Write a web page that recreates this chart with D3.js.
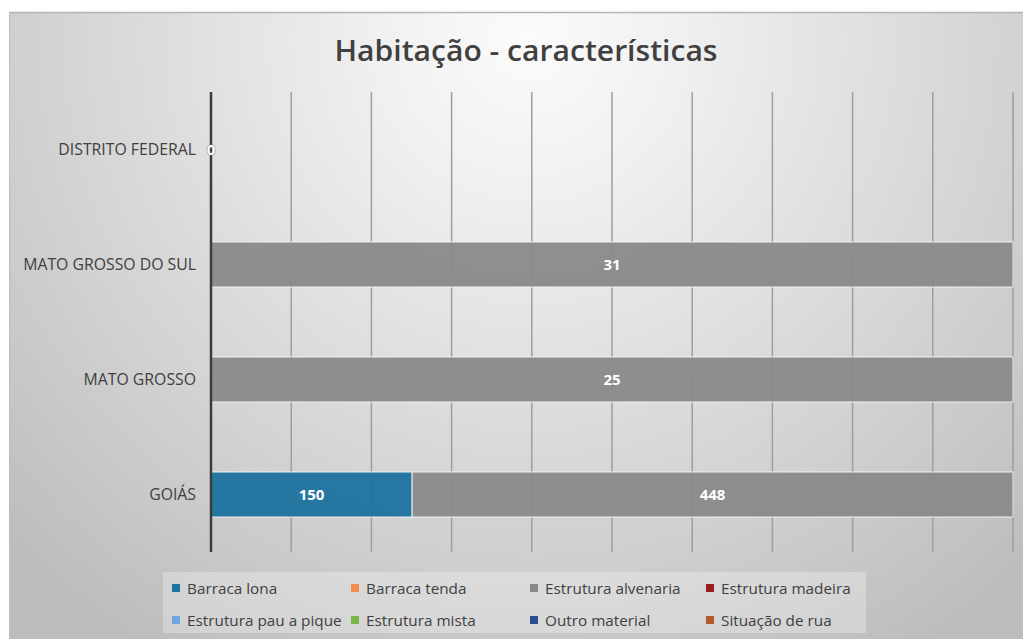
<!DOCTYPE html>
<html><head><meta charset="utf-8">
<script src="https://cdn.jsdelivr.net/npm/d3@7"></script>
<style>html,body{margin:0;padding:0;background:#fff;} svg{display:block;}</style>
</head><body>
<script>
// ---- data ----
const categories = ["DISTRITO FEDERAL", "MATO GROSSO DO SUL", "MATO GROSSO", "GOIÁS"];
const seriesNames = ["Barraca lona", "Barraca tenda", "Estrutura alvenaria", "Estrutura madeira",
  "Estrutura pau a pique", "Estrutura mista", "Outro material", "Situação de rua"];
const barracaLona        = [0, 0, 0, 150];
const barracaTenda       = [0, 0, 0, 0];
const estruturaAlvenaria = [0, 31, 25, 448];
const estruturaMadeira   = [0, 0, 0, 0];
const estruturaPauAPique = [0, 0, 0, 0];
const estruturaMista     = [0, 0, 0, 0];
const outroMaterial      = [0, 0, 0, 0];
const situacaoDeRua      = [0, 0, 0, 0];
const seriesColors = ["#1e739f", "#f28c4e", "#8a8a8a", "#9a1d20", "#6ea7dc", "#7ab54a", "#2e4f8f", "#b35a2b"];
const xTicks = [0, 0.1, 0.2, 0.3, 0.4, 0.5, 0.6, 0.7, 0.8, 0.9, 1.0];
const titleText = "Habitação - características";

const seriesValues = [barracaLona, barracaTenda, estruturaAlvenaria, estruturaMadeira,
  estruturaPauAPique, estruturaMista, outroMaterial, situacaoDeRua];

const W = 1023, H = 639;
const svg = d3.select("body").append("svg").attr("width", W).attr("height", H);
const defs = svg.append("defs");
const rg = defs.append("radialGradient").attr("id", "bg")
  .attr("gradientUnits", "userSpaceOnUse").attr("cx", 530).attr("cy", 40).attr("r", 720);
[[0, "#fbfbfb"], [0.18, "#f2f2f2"], [0.4, "#e4e4e4"], [0.62, "#d6d6d6"], [0.82, "#c9c9c9"], [1, "#bdbdbd"]]
  .forEach(([o, c]) => rg.append("stop").attr("offset", o).attr("stop-color", c));

// chart area background
svg.append("rect").attr("x", 9).attr("y", 12).attr("width", W - 9).attr("height", H - 12).attr("fill", "url(#bg)");
svg.append("line").attr("x1", 9).attr("x2", W).attr("y1", 12.5).attr("y2", 12.5).attr("stroke", "#b4b4b4").attr("stroke-width", 1.5);
svg.append("line").attr("x1", 9.5).attr("x2", 9.5).attr("y1", 12).attr("y2", H).attr("stroke", "#bcbcbc").attr("stroke-width", 1);

const font = "'Open Sans', 'DejaVu Sans', sans-serif";

// title
svg.append("text").attr("x", 526).attr("y", 61).attr("text-anchor", "middle")
  .attr("font-family", font).attr("font-weight", 600).attr("font-size", 28)
  .attr("fill", "#404040").attr("textLength", 383).attr("lengthAdjust", "spacingAndGlyphs")
  .text(titleText);

// scales
const x = d3.scaleLinear().domain([0, 1]).range([211, 1013]);
const y = d3.scaleBand().domain(categories).range([92, 552]).paddingInner(0.6087).paddingOuter(0.3043);

// stacked (100%) data
const rows = categories.map((c, i) => {
  const r = { cat: c };
  seriesNames.forEach((s, j) => r[s] = seriesValues[j][i]);
  return r;
});
const stack = d3.stack().keys(seriesNames).offset(d3.stackOffsetExpand);
const layers = stack(rows);

// gridlines
svg.append("g").selectAll("line").data(xTicks).join("line")
  .attr("x1", d => x(d)).attr("x2", d => x(d)).attr("y1", 92).attr("y2", 552)
  .attr("stroke", "#9e9e9e").attr("stroke-width", 1.5);

// bars
const gBars = svg.append("g");
layers.forEach((layer, j) => {
  gBars.selectAll(null).data(layer.filter(d => d.data[seriesNames[j]] > 0)).join("rect")
    .attr("x", d => x(d[0])).attr("width", d => x(d[1]) - x(d[0]))
    .attr("y", d => y(d.data.cat)).attr("height", y.bandwidth())
    .attr("fill", seriesColors[j]).attr("fill-opacity", 0.96)
    .attr("stroke", "#f4f4f4").attr("stroke-opacity", 0.8).attr("stroke-width", 1.2);
});

// y axis line
svg.append("line").attr("x1", 211).attr("x2", 211).attr("y1", 92).attr("y2", 552)
  .attr("stroke", "#3c3c3c").attr("stroke-width", 2.5);

// category labels
const yAxis = d3.axisLeft(y).tickSize(0).tickPadding(15);
const gy = svg.append("g").attr("transform", "translate(211,0)").call(yAxis);
gy.select(".domain").remove();
gy.selectAll("text").attr("font-family", font).attr("font-size", 15.8).attr("fill", "#404040").attr("dy", "0.34em");

// data labels
const gLab = svg.append("g").attr("font-family", font).attr("font-weight", 700).attr("font-size", 15)
  .attr("text-anchor", "middle");
layers.forEach((layer, j) => {
  layer.forEach(d => {
    const v = d.data[seriesNames[j]];
    const total = seriesNames.reduce((a, s) => a + d.data[s], 0);
    const isZeroRow = total === 0 && seriesNames[j] === "Estrutura alvenaria";
    if (v > 0 || isZeroRow) {
      const x0 = isNaN(d[0]) ? 0 : d[0], x1 = isNaN(d[1]) ? 0 : d[1];
      gLab.append("text").attr("x", x((x0 + x1) / 2)).attr("y", y(d.data.cat) + y.bandwidth() / 2 + 5.5)
        .attr("fill", "#ffffff")
        .attr("stroke", isZeroRow ? "#6a6a6a" : "none").attr("stroke-width", isZeroRow ? 0.9 : 0)
        .attr("paint-order", "stroke")
        .text(v);
    }
  });
});

// legend
const lg = svg.append("g");
lg.append("rect").attr("x", 163).attr("y", 572).attr("width", 703).attr("height", 61)
  .attr("fill", "#ffffff").attr("fill-opacity", 0.28);
const colX = [173, 352, 531, 707];
const rowY = [588, 620];
seriesNames.forEach((s, i) => {
  const cx = colX[i % 4], cy = rowY[Math.floor(i / 4)];
  lg.append("rect").attr("x", cx - 1).attr("y", cy - 4).attr("width", 8).attr("height", 8).attr("fill", seriesColors[i]);
  lg.append("text").attr("x", cx + 14).attr("y", cy + 5.5)
    .attr("font-family", font).attr("font-size", 15.3).attr("fill", "#404040").text(s);
});
</script>
</body></html>
